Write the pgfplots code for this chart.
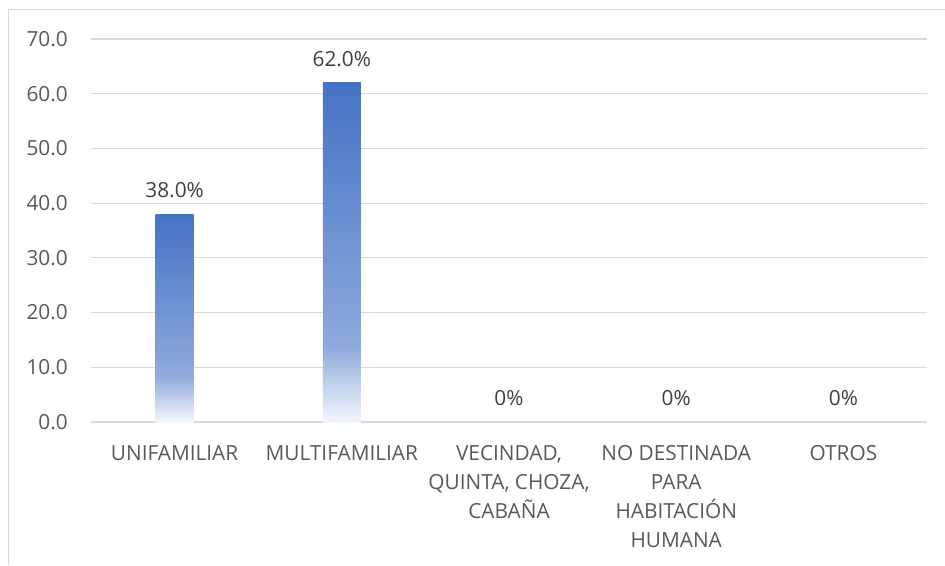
\documentclass[border=0pt]{standalone}
\usepackage{pgfplots}
\pgfplotsset{compat=1.18}
\usepackage{fontspec}
\setmainfont{Open Sans}
\definecolor{cb}{HTML}{F4F7FC}
\definecolor{cm}{HTML}{8FAADC}
\definecolor{ct}{HTML}{4472C4}
\definecolor{gridc}{HTML}{D9D9D9}
\definecolor{tickc}{HTML}{595959}
\definecolor{labc}{HTML}{404040}
\pgfdeclareverticalshading{barfade}{100bp}{color(0bp)=(cb); color(25bp)=(cb); color(36bp)=(cm); color(75bp)=(ct); color(100bp)=(ct)}
\begin{document}
\begin{tikzpicture}[x=0.75pt,y=0.75pt]
\useasboundingbox (0,0) rectangle (945,565);
\draw[gridc, line width=0.9pt] (8.5,0) -- (8.5,555.5) -- (946,555.5);
\begin{axis}[
  at={(68.25pt,107.25pt)}, anchor=south west,
  scale only axis, width=627pt, height=287.25pt,
  xmin=-0.5, xmax=4.5, ymin=0, ymax=70,
  ytick={0,10,...,70},
  xtick={0,1,2,3,4},
  xticklabels={UNIFAMILIAR, MULTIFAMILIAR, {VECINDAD,\\QUINTA, CHOZA,\\CABAÑA}, {NO DESTINADA\\PARA\\HABITACIÓN\\HUMANA}, OTROS},
  axis line style={draw=none},
  major tick length=0pt,
  ymajorgrids, grid style={gridc, line width=0.9pt},
  /pgf/number format/assume math mode=true,
  yticklabel={\pgfmathprintnumber[fixed,fixed zerofill,precision=1]{\tick}},
  yticklabel style={font=\fontsize{15.6}{18}\selectfont, text=tickc, inner sep=0pt, anchor=east, xshift=-17.25pt},
  xticklabel style={font=\fontsize{15.6}{21.75}\selectfont, text=tickc, align=center, inner sep=0pt, anchor=north, yshift=-17.5pt},
  clip=false,
  mylab/.style={point meta=explicit symbolic, nodes near coords,
    every node near coord/.append style={font=\fontsize{15.6}{18}\selectfont, text=labc, anchor=base, inner sep=0pt, yshift=12.4pt}},
  mybar/.style={ybar, bar width=28.5pt, bar shift=0pt, draw=none, shading=barfade, mylab},
]
\addplot[mybar] coordinates {(0,38)[38.0\%]};
\addplot[mybar] coordinates {(1,62)[62.0\%]};
\addplot[draw=none, mark=none, mylab]
  coordinates {(2,0)[0\%] (3,0)[0\%] (4,0)[0\%]};
\end{axis}
\end{tikzpicture}
\end{document}
